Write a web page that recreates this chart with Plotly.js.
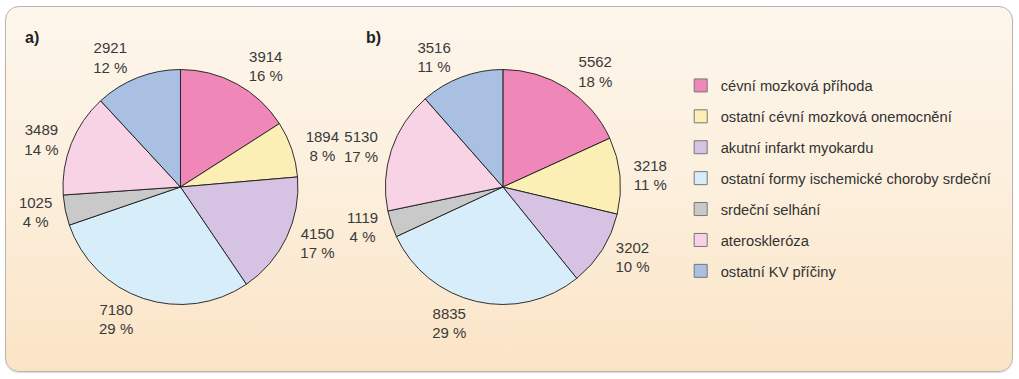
<!DOCTYPE html>
<html>
<head>
<meta charset="utf-8">
<script src="https://cdn.plot.ly/plotly-3.0.1.min.js"></script>
<style>
  html, body { margin: 0; padding: 0; background: #ffffff; }
  #wrap { position: relative; width: 1019px; height: 379px; overflow: hidden; }
  #panel {
    position: absolute; left: 5px; top: 6px; width: 1006px; height: 364px;
    border: 1px solid #b9b4ad; border-radius: 14px;
    background: linear-gradient(to bottom, #fdf6ec 0%, #fcefdc 50%, #fbe4c6 100%);
    box-shadow: 0 1px 1px rgba(0,0,0,0.15);
  }
  #chart { position: absolute; left: 0; top: 0; width: 1019px; height: 379px; }
</style>
</head>
<body>
<div id="wrap">
  <div id="panel"></div>
  <div id="chart"></div>
</div>
<script>
const categories = [
  "cévní mozková příhoda",
  "ostatní cévní mozková onemocnění",
  "akutní infarkt myokardu",
  "ostatní formy ischemické choroby srdeční",
  "srdeční selhání",
  "ateroskleróza",
  "ostatní KV příčiny"
];
const valuesA = [3914, 1894, 4150, 7180, 1025, 3489, 2921];
const valuesB = [5562, 3218, 3202, 8835, 1119, 5130, 3516];
const panelLabels = ["a)", "b)"];
const colors = ["#ef88b8", "#fcefb6", "#d6c2e2", "#d7eefa", "#c9c9c9", "#f8d3e5", "#a9c0e3"];

const FONT = '"Liberation Sans", Arial, Helvetica, sans-serif';

function pctText(vals) {
  const total = vals.reduce((s, v) => s + v, 0);
  return vals.map(v => Math.round(v / total * 100) + " %");
}

const textFont = {family: FONT, size: 15, color: "#3a3a3a"};

// visible pie (no text)
function pieTrace(vals, dx) {
  return {
    type: "pie",
    labels: categories,
    values: vals,
    textinfo: "none",
    sort: false,
    direction: "clockwise",
    rotation: 0,
    automargin: false,
    showlegend: false,
    marker: {colors: colors, line: {color: "#1a1a1a", width: 0.9}},
    domain: {x: dx, y: [0.1966, 0.8166]}
  };
}

// transparent, slightly larger pie that only carries the outside labels
function labelTrace(vals, dx) {
  return {
    type: "pie",
    labels: categories,
    values: vals,
    customdata: pctText(vals),
    texttemplate: "%{value:d}<br>%{customdata}",
    textposition: "outside",
    textfont: textFont,
    outsidetextfont: textFont,
    sort: false,
    direction: "clockwise",
    rotation: 0,
    automargin: false,
    showlegend: false,
    marker: {colors: categories.map(() => "rgba(0,0,0,0)"), line: {width: 0}},
    domain: {x: dx, y: [0.1847, 0.8285]}
  };
}

const legendTraces = categories.map((c, i) => ({
  type: "scatter",
  mode: "markers",
  x: [null], y: [null],
  name: c,
  legendgroup: "g" + i,
  showlegend: true,
  hoverinfo: "skip",
  marker: {symbol: "square", size: 13, color: colors[i], line: {color: "#777", width: 1}}
}));

const data = [
  labelTrace(valuesA, [0.0579, 0.2974]),
  labelTrace(valuesB, [0.3739, 0.6134]),
  pieTrace(valuesA, [0.0618, 0.2924]),
  pieTrace(valuesB, [0.378, 0.609])
].concat(legendTraces);

const layout = {
  width: 1019, height: 379,
  margin: {l: 0, r: 0, t: 0, b: 0},
  paper_bgcolor: "rgba(0,0,0,0)",
  plot_bgcolor: "rgba(0,0,0,0)",
  font: {family: FONT, color: "#333"},
  xaxis: {visible: false, domain: [0.99, 1]},
  yaxis: {visible: false, domain: [0.99, 1]},
  showlegend: true,
  legend: {
    x: 0.668, xanchor: "left",
    y: 0.817, yanchor: "top",
    bgcolor: "rgba(0,0,0,0)",
    font: {family: FONT, size: 14.7, color: "#333"},
    tracegroupgap: 8.8,
    traceorder: "grouped"
  },
  annotations: [
    {text: "<b>" + panelLabels[0] + "</b>", xref: "paper", yref: "paper", x: 23/1019, y: 1 - 38/379,
     xanchor: "left", yanchor: "middle", showarrow: false, font: {family: FONT, size: 16, color: "#222"}},
    {text: "<b>" + panelLabels[1] + "</b>", xref: "paper", yref: "paper", x: 364/1019, y: 1 - 38/379,
     xanchor: "left", yanchor: "middle", showarrow: false, font: {family: FONT, size: 16, color: "#222"}}
  ]
};

Plotly.newPlot("chart", data, layout, {displayModeBar: false, staticPlot: true});
</script>
</body>
</html>
